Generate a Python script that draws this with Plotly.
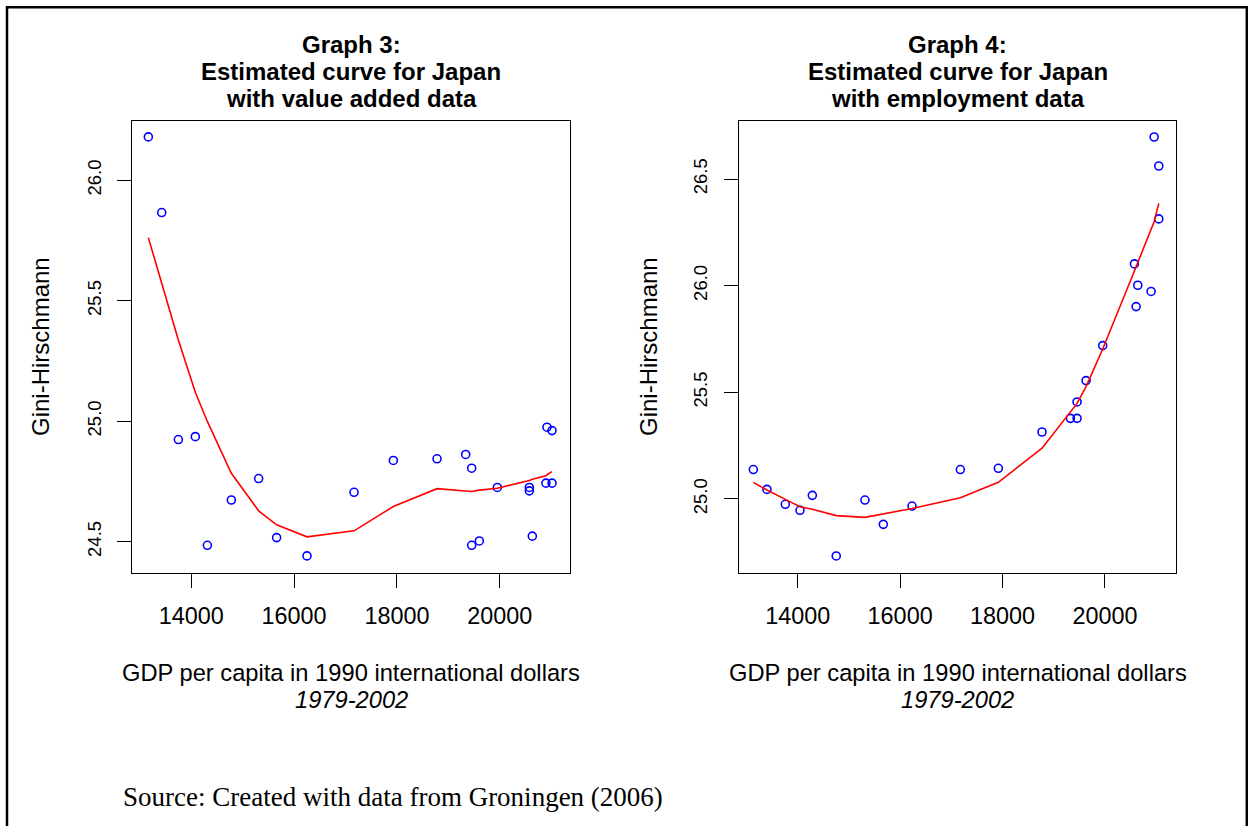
import plotly.graph_objects as go

# ---------------- data ----------------
# Graph 3: value added data
gdp_va = [13164, 13424, 13748, 14078, 14312, 14779, 15310, 15660, 16251, 17166, 17931, 18781,
          19338, 19455, 19455, 19604, 19954, 20577, 20577, 20635, 20900, 20920, 21018, 21018]
gini_va = [26.180, 25.866, 24.924, 24.936, 24.485, 24.673, 24.762, 24.517, 24.441, 24.705, 24.837, 24.844,
           24.862, 24.805, 24.485, 24.503, 24.725, 24.725, 24.711, 24.523, 24.743, 24.975, 24.961, 24.743]
fit_va = [25.762, 25.572, 25.337, 25.120, 24.999, 24.784, 24.628, 24.570, 24.520, 24.545, 24.646, 24.720,
          24.711, 24.708, 24.708, 24.714, 24.722, 24.754, 24.754, 24.759, 24.773, 24.778, 24.791, 24.791]

# Graph 4: employment data
gdp_emp = [13134, 13400, 13758, 14045, 14286, 14753, 15313, 15672, 16232, 17176, 17918, 18771,
           19325, 19455, 19455, 19631, 19956, 20575, 20608, 20641, 20901, 20960, 21051, 21051]
gini_emp = [25.138, 25.045, 24.975, 24.947, 25.017, 24.733, 24.995, 24.881, 24.967, 25.138, 25.144, 25.314,
            25.378, 25.378, 25.455, 25.555, 25.719, 26.102, 25.902, 26.002, 25.973, 26.697, 26.561, 26.313]
fit_emp = [25.078, 25.042, 24.998, 24.964, 24.952, 24.922, 24.914, 24.930, 24.955, 25.006, 25.078, 25.238,
           25.410, 25.448, 25.448, 25.527, 25.703, 26.069, 26.089, 26.108, 26.261, 26.300, 26.386, 26.386]

x_ticks = [14000, 16000, 18000, 20000]
y_ticks_va = [24.5, 25.0, 25.5, 26.0]
y_ticks_emp = [25.0, 25.5, 26.0, 26.5]

titles_va = ["Graph 3:", "Estimated curve for Japan", "with value added data"]
titles_emp = ["Graph 4:", "Estimated curve for Japan", "with employment data"]
x_title = "GDP per capita in 1990 international dollars"
x_sub = "1979-2002"
y_title = "Gini-Hirschmann"
source = "Source: Created with data from Groningen (2006)"

# ---------------- figure ----------------
W, H = 1248, 826
fig = go.Figure()

pt_style = dict(mode="markers", marker=dict(symbol="circle-open", size=8, color="#0000FF",
                                            line=dict(color="#0000FF", width=1.6)), showlegend=False)
ln_style = dict(mode="lines", line=dict(color="#FF0000", width=1.6), showlegend=False)

fig.add_trace(go.Scatter(x=gdp_va, y=gini_va, xaxis="x", yaxis="y", **pt_style))
fig.add_trace(go.Scatter(x=gdp_va, y=fit_va, xaxis="x", yaxis="y", **ln_style))
fig.add_trace(go.Scatter(x=gdp_emp, y=gini_emp, xaxis="x2", yaxis="y2", **pt_style))
fig.add_trace(go.Scatter(x=gdp_emp, y=fit_emp, xaxis="x2", yaxis="y2", **ln_style))

def px_x(p):
    return p / W

def px_y(p):
    return 1 - p / H

SANS = "Liberation Sans, Arial"
axis_common = dict(showline=True, mirror=True, linecolor="black", linewidth=1.3,
                   ticks="outside", ticklen=14, tickwidth=1.2, tickcolor="black",
                   showgrid=False, zeroline=False)
xfont = dict(family=SANS, size=23.4, color="black")
yfont = dict(family=SANS, size=18.5, color="black")

left_dom = [px_x(132.3), px_x(569.7)]
right_dom = [px_x(739), px_x(1176)]
y_dom = [px_y(573), px_y(121)]

fig.update_layout(
    width=W, height=H,
    margin=dict(l=0, r=0, t=0, b=0, pad=0),
    paper_bgcolor="white", plot_bgcolor="white",
    xaxis=dict(domain=left_dom, range=[12852, 21362], tickvals=x_ticks,
               ticktext=[str(v) for v in x_ticks], anchor="y", ticklabelstandoff=8,
               tickfont=xfont, **axis_common),
    yaxis=dict(domain=y_dom, range=[24.370, 26.246], tickvals=y_ticks_va,
               ticktext=[f"{v:.1f}" for v in y_ticks_va], anchor="x", tickangle=-90,
               ticklabelstandoff=9, tickfont=yfont, **axis_common),
    xaxis2=dict(domain=right_dom, range=[12854, 21387], tickvals=x_ticks,
                ticktext=[str(v) for v in x_ticks], anchor="y2", ticklabelstandoff=8,
                tickfont=xfont, **axis_common),
    yaxis2=dict(domain=y_dom, range=[24.653, 26.772], tickvals=y_ticks_emp,
                ticktext=[f"{v:.1f}" for v in y_ticks_emp], anchor="x2", tickangle=-90,
                ticklabelstandoff=9, tickfont=yfont, **axis_common),
)

annots = []
title_font = dict(family=SANS, size=24, color="black")
lab_font = dict(family=SANS, size=23.7, color="black")
for cx, lines in ((351, titles_va), (957.5, titles_emp)):
    for ly, txt in zip((44, 71, 98), lines):
        annots.append(dict(x=px_x(cx), y=px_y(ly), xref="paper", yref="paper", text=f"<b>{txt}</b>",
                           showarrow=False, xanchor="center", yanchor="middle", font=title_font))
    annots.append(dict(x=px_x(cx), y=px_y(673), xref="paper", yref="paper", text=x_title,
                       showarrow=False, xanchor="center", yanchor="middle", font=lab_font))
    annots.append(dict(x=px_x(cx), y=px_y(700), xref="paper", yref="paper", text=f"<i>{x_sub}</i>",
                       showarrow=False, xanchor="center", yanchor="middle", font=lab_font))

for cx in (40, 648):
    annots.append(dict(x=px_x(cx), y=px_y(347), xref="paper", yref="paper", text=y_title,
                       showarrow=False, xanchor="center", yanchor="middle", textangle=-90,
                       font=dict(family=SANS, size=24, color="black")))

annots.append(dict(x=px_x(121), y=px_y(797), xref="paper", yref="paper", text=source,
                   showarrow=False, xanchor="left", yanchor="middle",
                   font=dict(family="Liberation Serif, Times New Roman", size=27, color="black")))

fig.update_layout(annotations=annots)

# outer frame (top, left, right; open at the bottom)
frame = dict(type="line", xref="paper", yref="paper", line=dict(color="black", width=2.5))
fig.add_shape(x0=px_x(7), x1=px_x(1247), y0=px_y(7.3), y1=px_y(7.3), **frame)
fig.add_shape(x0=px_x(7), x1=px_x(7), y0=px_y(6), y1=0, **frame)
fig.add_shape(x0=px_x(1246.8), x1=px_x(1246.8), y0=px_y(6), y1=0, **frame)

fig.write_html("out.html")
